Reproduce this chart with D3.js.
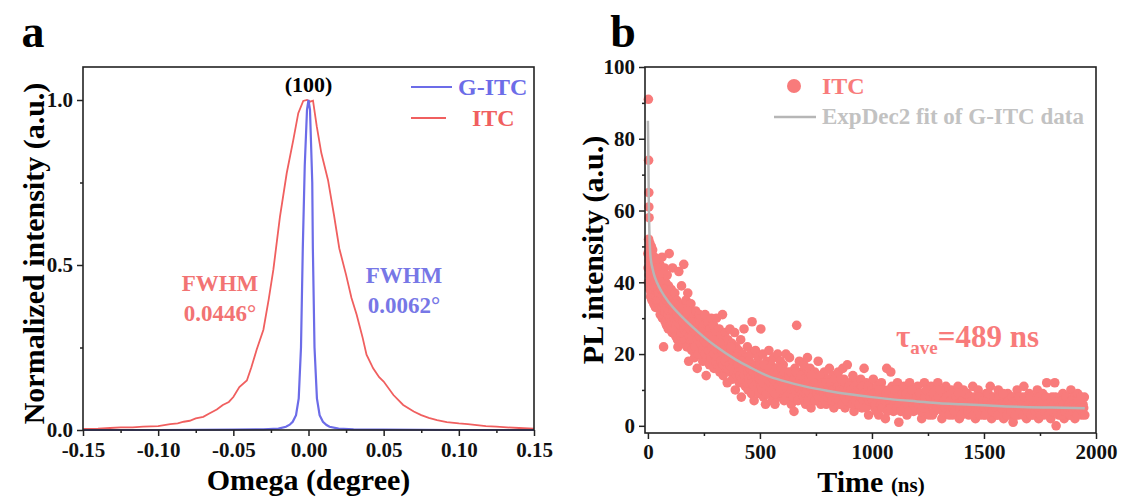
<!DOCTYPE html>
<html>
<head>
<meta charset="utf-8">
<script src="https://cdn.jsdelivr.net/npm/d3@7/dist/d3.min.js"></script>
<style>
  html, body { margin: 0; padding: 0; background: #fff; }
  svg { display: block; }
  text { font-family: "Liberation Serif", "Times New Roman", serif; font-weight: bold; }
  .axis path, .axis line { stroke: #222; stroke-width: 1.5; }
  .axis text { font-size: 21px; fill: #111; }
</style>
</head>
<body>
<svg id="chart" width="1126" height="499"></svg>
<script>
// ---- panel a: rocking curves ----
const omegaTicks = [-0.15, -0.10, -0.05, 0.00, 0.05, 0.10, 0.15];
const intTicks = [0.0, 0.5, 1.0];

const itcOmega = [-0.150, -0.140, -0.132, -0.125, -0.117, -0.110, -0.100, -0.092, -0.087, -0.083, -0.079, -0.075, -0.070, -0.066, -0.061, -0.057, -0.053,
  -0.050, -0.046, -0.041, -0.038, -0.0345, -0.030, -0.0265, -0.0234, -0.019, -0.0145, -0.0101, -0.0068, -0.0035, -0.001, 0.001, 0.003,
  0.0055, 0.0085, 0.013, 0.017, 0.0205, 0.025, 0.0286, 0.032, 0.036, 0.0386, 0.043, 0.047, 0.050, 0.0565, 0.063, 0.070, 0.075,
  0.080, 0.0855, 0.092, 0.100, 0.106, 0.112, 0.118, 0.125, 0.132, 0.140, 0.150];
const itcInt = [0.003, 0.004, 0.006, 0.008, 0.008, 0.010, 0.012, 0.018, 0.020, 0.025, 0.028, 0.035, 0.040, 0.050, 0.062, 0.076, 0.085,
  0.100, 0.130, 0.150, 0.190, 0.243, 0.304, 0.395, 0.485, 0.646, 0.778, 0.879, 0.960, 0.997, 1.000, 0.995, 0.998,
  0.920, 0.840, 0.757, 0.650, 0.550, 0.470, 0.400, 0.350, 0.280, 0.228, 0.187, 0.160, 0.147, 0.106, 0.076, 0.056, 0.045,
  0.037, 0.030, 0.024, 0.020, 0.018, 0.015, 0.012, 0.010, 0.008, 0.006, 0.004];

const gitcOmega = [-0.150, -0.100, -0.050, -0.030, -0.020, -0.015, -0.0125, -0.0105, -0.0083, -0.0065, -0.005, -0.0038, -0.0025, -0.001, 0.000,
  0.001, 0.0025, 0.0029, 0.004, 0.0056, 0.0074, 0.0096, 0.012, 0.014, 0.020, 0.030, 0.050, 0.100, 0.150];
const gitcInt = [0.000, 0.000, 0.001, 0.002, 0.004, 0.010, 0.016, 0.025, 0.045, 0.096, 0.250, 0.550, 0.800, 0.970, 1.000,
  0.970, 0.750, 0.550, 0.250, 0.096, 0.045, 0.025, 0.015, 0.010, 0.004, 0.002, 0.001, 0.000, 0.000];

// ---- panel b: PL decay (time ns, counts) ----
const timeTicks = [0, 500, 1000, 1500, 2000];
const plTicks = [0, 20, 40, 60, 80, 100];

const decayEarly = [
  [0,48],[1,44],[2,91],[3,74],[3,52],[4,65],[4,61],[5,58],[5,46],[6,50],[6,42],[7,47],[8,51],[8,38],[9,45],[10,49],[10,40],[11,43],[12,36],[13,47],
  [14,41],[15,50],[16,38],[17,44],[18,35],[19,46],[20,41],[21,49],[22,37],[23,43],[24,40],[25,46],[26,34],[27,42],[28,38],[29,47],[30,39],[31,44],
  [32,36],[33,41],[34,33],[35,45],[36,38],[37,42],[38,35],[39,40],[40,44],[41,37],[42,33],[43,41],[44,46],[45,36],[46,39],[47,43],[48,34],[49,38],
  [50,41],[52,35],[53,45],[55,31],[56,38],[58,43],[59,33],[60,40],[62,36],[63,47],[65,30],[66,39],[68,34],[69,42],[70,22],[71,37],[73,32],[74,44],
  [76,35],[77,29],[79,40],[80,33],[82,38],[83,28],[85,36],[86,42],[88,31],[89,35],[91,27],[92,39],[94,33],[95,48],[97,30],[98,36],
  [2,40],[4,44],[7,39],[9,42],[12,45],[14,37],[17,48],[19,39],[22,45],[24,36],[27,39],[29,43],[32,40],[34,46],[37,36],[39,44],[42,39],[44,35],
  [47,37],[49,42],[51,37],[54,40],[57,35],[61,38],[64,33],[67,36],[72,34],[75,38],[78,32],[81,35],[84,33],[87,37],[90,31],[93,34],[96,32],[99,29]
];
const decayRise = [
  [100,34],[102,28],[104,38],[106,31],[108,26],[110,44],[112,35],[114,30],[116,27],[118,33],[120,37],[122,29],[124,25],[126,32],[128,35],[130,28],
  [132,24],[134,22],[136,31],[138,43],[140,27],[142,34],[144,29],[146,25],[148,32],[150,39],[152,28],[154,23],[156,30],[158,26],[160,45],[162,33],
  [164,27],[166,24],[168,31],[170,35],[172,28],[174,22],[176,29],[178,37],[180,26],[182,18],[184,32],[186,28],[188,24],[190,30],[192,34],[194,26],
  [196,21],[198,29],
  [200,27],[203,31],[205,23],[208,19],[210,28],[213,32],[215,25],[218,22],[220,16],[223,29],[225,26],[228,21],[230,31],[233,24],[235,27],[238,20],
  [240,30],[243,23],[245,18],[248,28],[250,25],[253,22],[255,31],[258,19],[260,14],[263,26],[265,23],[268,29],[270,20],[273,24],[275,17],[278,27],
  [280,22],[283,30],[285,19],[288,25],[290,21],[293,28],[295,16],[298,23],
  [300,26],[303,20],[306,30],[309,17],[312,24],[315,22],[318,27],[321,15],[324,21],[327,25],[330,19],[333,31],[336,14],[339,23],[342,20],[345,26],
  [348,16],[351,22],[354,12],[357,24],[360,18],[363,21],[366,27],[369,15],[372,19],[375,23],[378,13],[381,20],[384,17],[387,26],[390,10],[393,22],
  [396,16],[399,19],
  [402,15],[405,21],[408,12],[411,18],[414,24],[417,8],[420,16],[423,20],[426,13],[429,27],[432,17],[435,11],[438,19],[441,14],[444,22],[447,10],
  [450,16],[453,18],[456,12],[459,20],[462,9],[465,29],[468,15],[471,17],[474,7],[477,13],[480,21],[483,11],[486,16],[489,14],[492,19],[495,9],[498,12],
  [101,30],[105,34],[109,29],[113,32],[117,30],[121,34],[125,28],[129,31],[133,27],[137,33],[141,30],[145,28],[149,26],[153,31],[157,29],[161,27],
  [165,30],[169,28],[173,32],[177,26],[181,29],[185,25],[189,27],[193,29],[197,25],
  [201,24],[206,27],[211,22],[216,26],[221,24],[226,20],[231,25],[236,23],[241,26],[246,21],[251,24],[256,20],[261,23],[266,25],[271,21],[276,23],
  [281,19],[286,22],[291,24],[296,20],
  [301,22],[306,18],[311,21],[316,19],[321,23],[326,18],[331,21],[336,17],[341,20],[346,18],[351,19],[356,16],[361,20],[366,17],[371,22],[376,16],
  [381,18],[386,15],[391,19],[396,14],
  [401,17],[406,15],[411,14],[416,18],[421,13],[426,16],[431,14],[436,17],[441,12],[446,15],[451,13],[456,16],[461,14],[466,12],[471,15],[476,11],
  [481,14],[486,12],[491,15],[496,13]
];
const decayMid = [
  [501,17],[504,27],[507,11],[510,14],[513,20],[516,8],[519,13],[522,16],[525,6],[528,12],[531,18],[534,10],[537,15],[540,21],[543,9],[546,13],
  [549,17],[552,11],[555,7],[558,14],[561,19],[564,12],[567,6],[570,16],[573,10],[576,13],[579,20],[582,8],[585,15],[588,11],[591,18],[594,9],[597,14],
  [600,12],[604,17],[608,7],[612,13],[616,20],[620,10],[624,15],[628,9],[632,19],[636,12],[640,6],[644,14],[648,11],[652,4],[656,16],[660,13],
  [664,28],[668,9],[672,14],[676,18],[680,8],[684,12],[688,15],[692,10],[696,17],
  [700,11],[704,6],[708,14],[712,19],[716,9],[720,12],[724,16],[728,5],[732,10],[736,13],[740,8],[744,15],[748,11],[752,7],[756,13],[760,18],
  [764,9],[768,12],[772,6],[776,14],[780,10],[784,8],[788,15],[792,11],[796,6],
  [800,13],[805,9],[810,16],[815,7],[820,11],[825,14],[830,5],[835,10],[840,12],[845,8],[850,15],[855,6],[860,11],[865,9],[870,16],[875,13],
  [880,5],[885,10],[890,17],[895,8],
  [900,12],[905,7],[910,10],[915,14],[920,4],[925,9],[930,12],[935,6],[940,11],[945,8],[950,13],[955,5],[960,10],[965,16],[970,7],[975,12],
  [980,9],[985,3],[990,11],[995,6],
  [502,13],[506,15],[511,10],[515,12],[520,17],[524,14],[529,9],[533,13],[538,11],[542,16],[547,12],[551,14],[556,10],[560,13],[565,15],[569,9],
  [574,12],[578,16],[583,11],[587,13],[592,10],[596,16],
  [602,14],[606,10],[610,15],[614,11],[618,8],[622,13],[626,11],[630,14],[634,9],[638,15],[642,10],[646,12],[650,8],[654,13],[658,10],[662,15],
  [666,11],[670,7],[674,12],[678,10],[682,14],[686,9],[690,12],[694,8],[698,13],
  [702,9],[706,12],[710,10],[714,7],[718,13],[722,9],[726,11],[730,14],[734,8],[738,11],[742,10],[746,7],[750,12],[754,9],[758,11],[762,8],
  [766,14],[770,10],[774,8],[778,12],[782,11],[786,9],[790,7],[794,12],[798,10],
  [802,8],[807,11],[812,9],[817,12],[822,7],[827,10],[832,8],[837,13],[842,9],[847,11],[852,7],[857,10],[862,13],[867,6],[872,10],[877,8],
  [882,12],[887,7],[892,10],[897,11],
  [902,8],[907,10],[912,6],[917,9],[922,11],[927,7],[932,9],[937,10],[942,6],[947,10],[952,8],[957,11],[962,7],[967,9],[972,5],[977,8],
  [982,11],[987,7],[992,9],[997,8]
];
const decayTail = [
  [1000,10],[1006,13],[1012,5],[1018,8],[1024,11],[1030,3],[1036,9],[1042,12],[1048,7],[1054,10],[1060,2],[1066,16],[1072,8],[1078,6],[1084,15],
  [1090,11],[1096,4],[1102,9],[1108,7],[1114,12],[1120,1],[1126,8],[1132,10],[1138,5],[1144,11],[1150,7],[1156,3],[1162,9],[1168,12],[1174,6],
  [1180,8],[1186,4],[1192,10],[1198,7],
  [1204,11],[1210,5],[1216,8],[1222,2],[1228,9],[1234,12],[1240,6],[1246,4],[1252,10],[1258,7],[1264,11],[1270,3],[1276,8],[1282,6],[1288,10],
  [1294,12],[1300,5],[1306,8],[1312,2],[1318,9],[1324,7],[1330,11],[1336,4],[1342,8],[1348,6],[1354,10],[1360,3],[1366,7],[1372,9],[1378,5],
  [1384,11],[1390,2],[1396,8],[1402,6],[1408,10],[1414,4],[1420,7],[1426,9],[1432,3],[1438,6],[1444,8],[1450,11],[1456,5],[1462,2],[1468,7],
  [1474,10],[1480,4],[1486,6],[1492,8],[1498,3],
  [1504,7],[1510,9],[1516,4],[1522,6],[1528,11],[1534,2],[1540,7],[1546,5],[1552,8],[1558,3],[1564,10],[1570,6],[1576,4],[1582,8],[1588,2],
  [1594,7],[1600,5],[1606,9],[1612,3],[1618,6],[1624,8],[1630,1],[1636,7],[1642,5],[1648,10],[1654,3],[1660,6],[1666,8],[1672,4],[1678,11],
  [1684,6],[1690,2],[1696,7],[1702,9],[1708,4],[1714,6],[1720,3],[1726,8],[1732,5],[1738,10],[1744,2],[1750,7],[1756,5],[1762,9],[1768,3],
  [1774,6],[1780,12],[1786,4],[1792,7],[1798,2],[1804,8],[1810,5],[1816,12],[1822,0],[1828,6],[1834,3],[1840,8],[1846,5],[1852,9],[1858,2],
  [1864,6],[1870,4],[1876,7],[1882,3],[1888,10],[1894,5],[1900,8],[1906,2],[1912,6],[1918,9],[1924,4],[1930,7],[1936,3],[1942,6],[1948,8],
  [1003,7],[1009,9],[1015,6],[1021,4],[1027,8],[1033,10],[1039,6],[1045,5],[1051,8],[1057,7],[1063,9],[1069,4],[1075,10],[1081,7],[1087,5],
  [1093,8],[1099,6],[1105,10],[1111,5],[1117,8],[1123,6],[1129,4],[1135,9],[1141,7],[1147,5],[1153,9],[1159,6],[1165,4],[1171,8],[1177,10],
  [1183,6],[1189,7],[1195,5],
  [1201,8],[1207,6],[1213,9],[1219,4],[1225,7],[1231,5],[1237,8],[1243,10],[1249,6],[1255,3],[1261,8],[1267,6],[1273,9],[1279,4],[1285,7],
  [1291,5],[1297,8],[1303,10],[1309,6],[1315,4],[1321,7],[1327,5],[1333,8],[1339,6],[1345,3],[1351,7],[1357,9],[1363,5],[1369,4],[1375,8],
  [1381,6],[1387,9],[1393,5],[1399,3],[1405,7],[1411,5],[1417,9],[1423,6],[1429,4],[1435,8],[1441,5],[1447,7],[1453,3],[1459,8],[1465,5],
  [1471,6],[1477,8],[1483,3],[1489,5],[1495,7],
  [1501,5],[1507,3],[1513,7],[1519,9],[1525,5],[1531,6],[1537,4],[1543,8],[1549,6],[1555,5],[1561,3],[1567,8],[1573,6],[1579,5],[1585,9],
  [1591,4],[1597,6],[1603,3],[1609,7],[1615,5],[1621,4],[1627,8],[1633,6],[1639,3],[1645,7],[1651,5],[1657,8],[1663,4],[1669,6],[1675,3],
  [1681,8],[1687,5],[1693,4],[1699,6],[1705,8],[1711,3],[1717,5],[1723,7],[1729,4],[1735,6],[1741,5],[1747,8],[1753,3],[1759,6],[1765,7],
  [1771,4],[1777,8],[1783,6],[1789,3],[1795,5],[1801,7],[1807,4],[1813,6],[1819,8],[1825,4],[1831,7],[1837,5],[1843,3],[1849,7],[1855,6],
  [1861,4],[1867,8],[1873,5],[1879,6],[1885,3],[1891,7],[1897,4],[1903,6],[1909,5],[1915,3],[1921,7],[1927,5],[1933,8],[1939,4],[1945,5],[1950,3]
];

// ExpDec2 fit curve
const fitTime = [0, 2, 4, 7, 10, 15, 20, 28, 40, 60, 95, 150, 200, 245, 300, 394, 450, 543, 600, 700, 800, 900, 1000, 1100, 1200, 1300, 1400, 1500, 1600, 1700, 1800, 1950];
const fitPL = [85, 75, 62, 53, 48.5, 45.5, 44, 42, 40, 37.5, 34.3, 30.5, 27.5, 25, 22.3, 18.4, 16.5, 13.7, 12.6, 11, 9.8, 8.8, 8, 7.3, 6.8, 6.3, 6, 5.7, 5.4, 5.2, 5.1, 4.9];

const RED = '#f05f5f', BLUE = '#6c6ce8', DOT = '#f87b7b', FIT = '#b6b6b6';

const svg = d3.select('#chart');

function frame(g, x, y) {
  const [x0, x1] = x.range(), [y0, y1] = y.range();
  g.append('rect').attr('x', x0).attr('y', y1).attr('width', x1 - x0).attr('height', y0 - y1)
    .attr('fill', 'none').attr('stroke', '#222').attr('stroke-width', 1.6);
}

// ================= panel a =================
const xA = d3.scaleLinear().domain([-0.15, 0.15]).range([83, 534]);
const yA = d3.scaleLinear().domain([0, 1.1]).range([430, 67]);
const gA = svg.append('g');

const lineA = d3.line().x(d => xA(d[0])).y(d => yA(d[1]));
gA.append('path').datum(d3.zip(itcOmega, itcInt)).attr('d', lineA)
  .attr('fill', 'none').attr('stroke', RED).attr('stroke-width', 1.8);
gA.append('path').datum(d3.zip(gitcOmega, gitcInt)).attr('d', lineA)
  .attr('fill', 'none').attr('stroke', BLUE).attr('stroke-width', 2.2);

frame(gA, xA, yA);

gA.append('g').attr('class', 'axis').attr('transform', `translate(0,${yA(0)})`)
  .call(d3.axisBottom(xA).tickValues(omegaTicks).tickFormat(d => d.toFixed(2)).tickSize(6).tickSizeOuter(0).tickPadding(6))
  .call(g => g.select('.domain').remove());
gA.append('g').attr('class', 'axis').attr('transform', `translate(0,${yA(0)})`)
  .call(d3.axisBottom(xA).tickValues(d3.range(-0.125, 0.15, 0.05)).tickFormat('').tickSize(3).tickSizeOuter(0))
  .call(g => g.select('.domain').remove());
gA.append('g').attr('class', 'axis').attr('transform', `translate(${xA(-0.15)},0)`)
  .call(d3.axisLeft(yA).tickValues(intTicks).tickFormat(d => d.toFixed(1)).tickSize(6).tickSizeOuter(0).tickPadding(4))
  .call(g => g.select('.domain').remove());
gA.append('g').attr('class', 'axis').attr('transform', `translate(${xA(-0.15)},0)`)
  .call(d3.axisLeft(yA).tickValues([0.25, 0.75]).tickFormat('').tickSize(3).tickSizeOuter(0))
  .call(g => g.select('.domain').remove());

gA.append('text').attr('x', 33).attr('y', 47).attr('font-size', 46).attr('text-anchor', 'middle').text('a');
gA.append('text').attr('x', xA(0)).attr('y', 92).attr('font-size', 22).attr('text-anchor', 'middle').text('(100)');

gA.append('text').attr('transform', `translate(44,${(75 + 432) / 2}) rotate(-90)`)
  .attr('font-size', 30).attr('text-anchor', 'middle').text('Normalized intensity (a.u.)');
gA.append('text').attr('x', xA(0)).attr('y', 490).attr('font-size', 30).attr('text-anchor', 'middle').text('Omega (degree)');

// legend a
gA.append('line').attr('x1', 411).attr('x2', 452).attr('y1', 87).attr('y2', 87).attr('stroke', BLUE).attr('stroke-width', 2);
gA.append('text').attr('x', 458).attr('y', 95).attr('font-size', 24).attr('fill', BLUE).text('G-ITC');
gA.append('line').attr('x1', 411).attr('x2', 446).attr('y1', 118).attr('y2', 118).attr('stroke', RED).attr('stroke-width', 2);
gA.append('text').attr('x', 472).attr('y', 126).attr('font-size', 24).attr('fill', RED).text('ITC');

// FWHM notes
gA.append('text').attr('x', 220).attr('y', 291).attr('font-size', 23).attr('text-anchor', 'middle').attr('fill', '#f27373').text('FWHM');
gA.append('text').attr('x', 220).attr('y', 321).attr('font-size', 23).attr('text-anchor', 'middle').attr('fill', '#f27373').text('0.0446°');
gA.append('text').attr('x', 404).attr('y', 283).attr('font-size', 23).attr('text-anchor', 'middle').attr('fill', '#7777e6').text('FWHM');
gA.append('text').attr('x', 404).attr('y', 313).attr('font-size', 23).attr('text-anchor', 'middle').attr('fill', '#7777e6').text('0.0062°');

// ================= panel b =================
const xB = d3.scaleLinear().domain([-13, 2000]).range([645, 1096]);
const yB = d3.scaleLinear().domain([-2, 100]).range([433, 67]);
const gB = svg.append('g');

const decay = [].concat(decayEarly, decayRise, decayMid, decayTail);
gB.append('g').selectAll('circle').data(decay).join('circle')
  .attr('cx', d => xB(d[0])).attr('cy', d => yB(d[1])).attr('r', 4.8).attr('fill', DOT);

gB.append('path').datum(d3.zip(fitTime, fitPL))
  .attr('d', d3.line().x(d => xB(d[0])).y(d => yB(d[1])).curve(d3.curveMonotoneX))
  .attr('fill', 'none').attr('stroke', FIT).attr('stroke-width', 2.5);

frame(gB, xB, yB);

gB.append('g').attr('class', 'axis').attr('transform', `translate(0,${yB(-2)})`)
  .call(d3.axisBottom(xB).tickValues(timeTicks).tickFormat(d3.format('d')).tickSize(6).tickSizeOuter(0).tickPadding(5))
  .call(g => g.select('.domain').remove());
gB.append('g').attr('class', 'axis').attr('transform', `translate(0,${yB(-2)})`)
  .call(d3.axisBottom(xB).tickValues([250, 750, 1250, 1750]).tickFormat('').tickSize(3).tickSizeOuter(0))
  .call(g => g.select('.domain').remove());
gB.append('g').attr('class', 'axis').attr('transform', `translate(${xB(-13)},0)`)
  .call(d3.axisLeft(yB).tickValues(plTicks).tickFormat(d3.format('d')).tickSize(6).tickSizeOuter(0).tickPadding(4))
  .call(g => g.select('.domain').remove());
gB.append('g').attr('class', 'axis').attr('transform', `translate(${xB(-13)},0)`)
  .call(d3.axisLeft(yB).tickValues([10, 30, 50, 70, 90]).tickFormat('').tickSize(3).tickSizeOuter(0))
  .call(g => g.select('.domain').remove());

gB.append('text').attr('x', 623).attr('y', 47).attr('font-size', 46).attr('text-anchor', 'middle').text('b');

gB.append('text').attr('transform', `translate(603,250) rotate(-90)`)
  .attr('font-size', 30).attr('text-anchor', 'middle').text('PL intensity (a.u.)');
const tl = gB.append('text').attr('x', 871).attr('y', 492).attr('text-anchor', 'middle');
tl.append('tspan').attr('font-size', 30).text('Time ');
tl.append('tspan').attr('font-size', 21).text('(ns)');

// legend b
gB.append('circle').attr('cx', 794).attr('cy', 86).attr('r', 7).attr('fill', DOT);
gB.append('text').attr('x', 822).attr('y', 94).attr('font-size', 24).attr('fill', DOT).text('ITC');
gB.append('line').attr('x1', 774).attr('x2', 816).attr('y1', 117).attr('y2', 117).attr('stroke', FIT).attr('stroke-width', 2.5);
gB.append('text').attr('x', 822).attr('y', 124).attr('font-size', 23).attr('fill', '#c2c2c2').text('ExpDec2 fit of G-ITC data');

const tau = gB.append('text').attr('x', 896).attr('y', 347).attr('fill', DOT);
tau.append('tspan').attr('font-size', 31).text('τ');
tau.append('tspan').attr('font-size', 19).attr('dy', 7).text('ave');
tau.append('tspan').attr('font-size', 31).attr('dy', -7).text('=489 ns');
</script>
</body>
</html>
